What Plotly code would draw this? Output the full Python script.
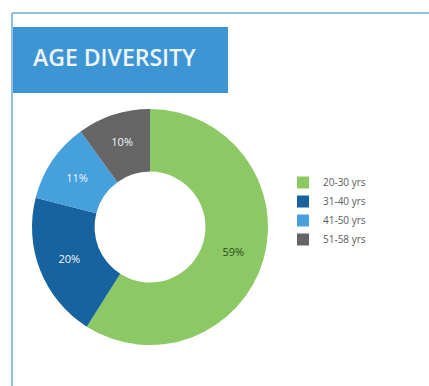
import plotly.graph_objects as go

# Age distribution of staff
age_groups = ["20-30 yrs", "31-40 yrs", "41-50 yrs", "51-58 yrs"]
shares = [59, 20, 11, 10]
slice_colors = ["#8cc864", "#17639f", "#45a0dc", "#656565"]
label_colors = ["#2f4a22", "#f2f6fa", "#f2f6fa", "#f2f6fa"]

W, H = 429, 386

def px_x(x):
    return x / W

def px_y(y):
    return 1 - y / H

fig = go.Figure()

fig.add_trace(go.Pie(
    labels=age_groups,
    values=shares,
    hole=0.47,
    sort=False,
    direction="clockwise",
    rotation=0,
    marker=dict(colors=slice_colors, line=dict(width=0)),
    texttemplate="%{value}%",
    textposition="inside",
    insidetextorientation="horizontal",
    textfont=dict(family="Open Sans", size=11, color=label_colors),
    domain=dict(x=[px_x(32), px_x(268)], y=[px_y(345), px_y(109)]),
    showlegend=True,
))

shapes = [
    # panel frame
    dict(type="line", xref="paper", yref="paper",
         x0=px_x(12), x1=1.0, y0=px_y(13), y1=px_y(13),
         line=dict(color="#8fc0e2", width=2)),
    dict(type="line", xref="paper", yref="paper",
         x0=px_x(12), x1=px_x(12), y0=px_y(13), y1=0,
         line=dict(color="#8fc0e2", width=2)),
    # title banner
    dict(type="rect", xref="paper", yref="paper",
         x0=px_x(12), x1=px_x(228), y0=px_y(93), y1=px_y(27),
         fillcolor="#3d95d4", line=dict(width=0), layer="below"),
]

fig.update_layout(
    width=W, height=H,
    margin=dict(l=0, r=0, t=0, b=0),
    paper_bgcolor="white",
    plot_bgcolor="white",
    shapes=shapes,
    annotations=[dict(
        text="AGE DIVERSITY", xref="paper", yref="paper",
        x=px_x(31), y=px_y(57), xanchor="left", yanchor="middle",
        showarrow=False,
        font=dict(family="Open Sans", size=23, weight=600, color="#eef6fb"),
    )],
    legend=dict(
        x=px_x(283), y=px_y(168), xanchor="left", yanchor="top",
        font=dict(family="Open Sans", size=10, color="#5a5a5a"),
        bgcolor="rgba(0,0,0,0)",
        tracegroupgap=0,
        itemwidth=30,
    ),
)

fig.write_html("out.html")
